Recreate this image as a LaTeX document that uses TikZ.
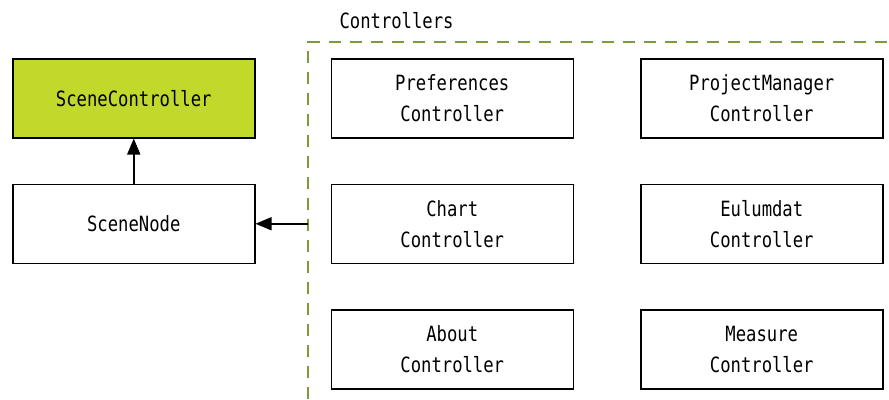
\documentclass[tikz,border=0pt]{standalone}
\usepackage{fontspec}
\setmonofont[FakeStretch=0.82]{DejaVu Sans Mono}
\usetikzlibrary{arrows.meta,positioning}
\definecolor{SceneGreen}{HTML}{C2D82B}
\definecolor{FrameGreen}{HTML}{7D9B3B}

\begin{document}
\begin{tikzpicture}[x=1pt, y=-1pt,
    block/.style={draw=black, line width=1.5pt, minimum width=242pt,
      minimum height=79pt, inner sep=0pt, align=center,
      font=\ttfamily\fontsize{21}{31}\selectfont},
    arrow/.style={-{Triangle[length=16pt,width=13pt]}, line width=1.5pt},
    groupframe/.style={draw=FrameGreen, line width=2pt, dash pattern=on 12pt off 9pt},
    node distance=45pt and 66pt
  ]
    \useasboundingbox (0,0) rectangle (889,399);
    % left column
    \node[block, fill=SceneGreen, anchor=north west] (scenectrl) at (12,58) {SceneController};
    \node[block, below=of scenectrl] (scenenode) {SceneNode};
    % controllers, two columns
    \node[block, right=75pt of scenectrl] (prefs) {Preferences\\Controller};
    \node[block, right=of prefs] (projmgr) {ProjectManager\\Controller};
    \node[block, below=of prefs] (chart) {Chart\\Controller};
    \node[block, below=of projmgr] (eulumdat) {Eulumdat\\Controller};
    \node[block, below=of chart] (about) {About\\Controller};
    \node[block, below=of eulumdat] (measure) {Measure\\Controller};
    % group frame, open to the right and bottom
    \coordinate (corner) at (308,41.5);
    \draw[groupframe] (308,399) -- (corner) -- (889,41.5);
    \node[anchor=base west, font=\ttfamily\fontsize{21}{31}\selectfont] (ctrllabel) at (336,28) {Controllers};
    \draw[arrow] (scenenode.north) -- (scenectrl.south);
    \draw[arrow] (corner |- scenenode.east) -- (scenenode.east);
  \end{tikzpicture}
\end{document}
